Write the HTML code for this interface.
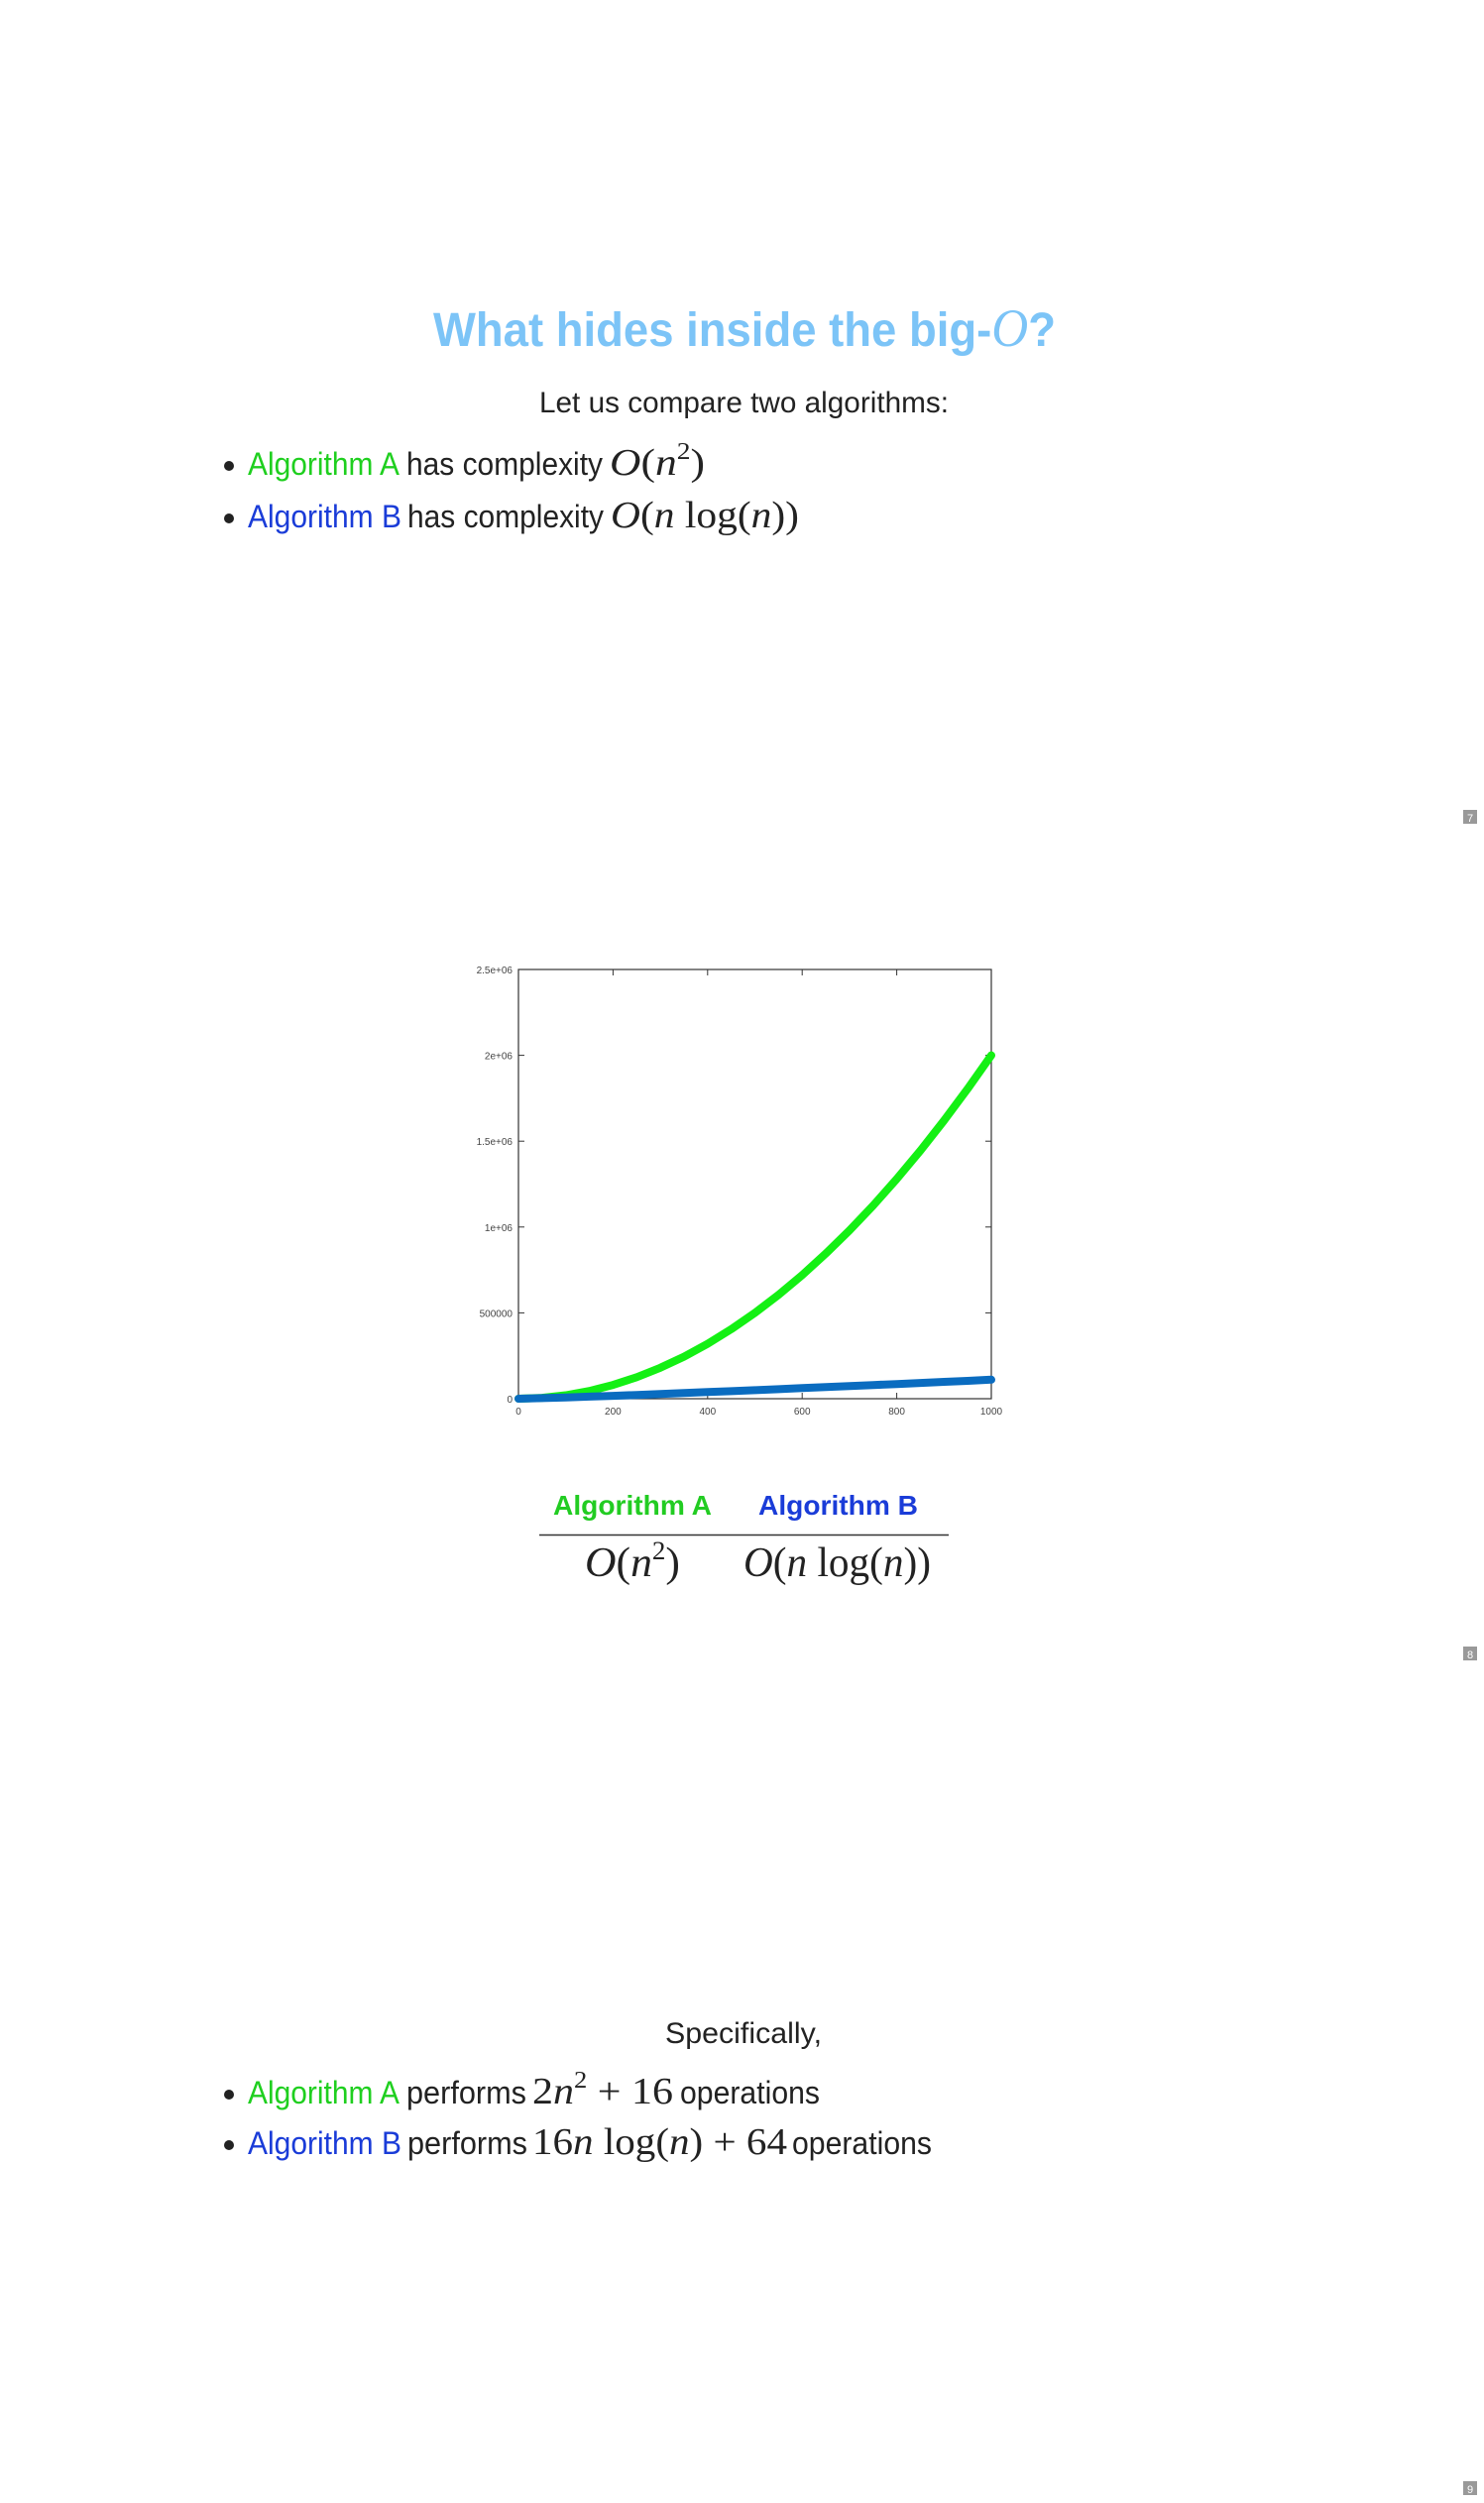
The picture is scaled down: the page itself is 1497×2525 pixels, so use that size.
<!DOCTYPE html>
<html><head><meta charset="utf-8"><style>
html,body{margin:0;padding:0;background:#fff;}
svg{display:block;}
.s{font-family:"Liberation Sans",sans-serif;}
.m{font-family:"Liberation Serif",serif;}
</style></head><body>
<svg id="page" width="1497" height="2525" viewBox="0 0 1497 2525" xmlns="http://www.w3.org/2000/svg">
<rect width="1497" height="2525" fill="#fff"/>
<!-- slide 7 -->
<g>
<text class="s" x="437" y="349" font-size="48" font-weight="bold" fill="#7cc4f7" textLength="628" lengthAdjust="spacingAndGlyphs">What hides inside the big-<tspan class="m" font-style="italic" font-weight="normal" font-size="54">O</tspan>?</text>
<text class="s" x="544" y="416" font-size="30" fill="#222" textLength="413" lengthAdjust="spacingAndGlyphs">Let us compare two algorithms:</text>
<circle cx="231" cy="470" r="5" fill="#222"/>
<text class="s" x="250" y="479" font-size="32" fill="#1fcf1f" textLength="153" lengthAdjust="spacingAndGlyphs">Algorithm A</text>
<text class="s" x="410" y="479" font-size="32" fill="#222" textLength="198" lengthAdjust="spacingAndGlyphs">has complexity</text>
<text class="m" x="615" y="479" font-size="38" fill="#222" textLength="96" lengthAdjust="spacingAndGlyphs"><tspan font-style="italic">O</tspan>(<tspan font-style="italic">n</tspan><tspan dy="-16" font-size="24">2</tspan><tspan dy="16">)</tspan></text>
<circle cx="231" cy="523" r="5" fill="#222"/>
<text class="s" x="250" y="532" font-size="32" fill="#1a3cd8" textLength="155" lengthAdjust="spacingAndGlyphs">Algorithm B</text>
<text class="s" x="411" y="532" font-size="32" fill="#222" textLength="198" lengthAdjust="spacingAndGlyphs">has complexity</text>
<text class="m" x="616" y="532" font-size="38" fill="#222" textLength="190" lengthAdjust="spacingAndGlyphs"><tspan font-style="italic">O</tspan>(<tspan font-style="italic">n</tspan> log(<tspan font-style="italic">n</tspan>))</text>
<rect x="1476" y="817" width="14" height="14" fill="#999"/>
<text class="s" x="1483" y="829" font-size="11" fill="#fff" text-anchor="middle">7</text>
</g>
<!-- slide 8 -->
<g>
<g id="chart"></g>
<text class="s" x="558" y="1528" font-size="28" font-weight="bold" fill="#22cc22" textLength="160" lengthAdjust="spacingAndGlyphs">Algorithm A</text>
<text class="s" x="765" y="1528" font-size="28" font-weight="bold" fill="#1a3cd8" textLength="161" lengthAdjust="spacingAndGlyphs">Algorithm B</text>
<line x1="544" y1="1548.5" x2="957" y2="1548.5" stroke="#333" stroke-width="1.5"/>
<text class="m" x="590" y="1590" font-size="42" fill="#222" textLength="96" lengthAdjust="spacingAndGlyphs"><tspan font-style="italic">O</tspan>(<tspan font-style="italic">n</tspan><tspan dy="-17" font-size="26">2</tspan><tspan dy="17">)</tspan></text>
<text class="m" x="750" y="1590" font-size="42" fill="#222" textLength="189" lengthAdjust="spacingAndGlyphs"><tspan font-style="italic">O</tspan>(<tspan font-style="italic">n</tspan> log(<tspan font-style="italic">n</tspan>))</text>
<rect x="1476" y="1661" width="14" height="14" fill="#999"/>
<text class="s" x="1483" y="1673" font-size="11" fill="#fff" text-anchor="middle">8</text>
</g>
<!-- slide 9 -->
<g>
<text class="s" x="671" y="2061" font-size="30" fill="#222" textLength="158" lengthAdjust="spacingAndGlyphs">Specifically,</text>
<circle cx="231" cy="2113" r="5" fill="#222"/>
<text class="s" x="250" y="2122" font-size="32" fill="#1fcf1f" textLength="153" lengthAdjust="spacingAndGlyphs">Algorithm A</text>
<text class="s" x="410" y="2122" font-size="32" fill="#222" textLength="121" lengthAdjust="spacingAndGlyphs">performs</text>
<text class="m" x="537" y="2122" font-size="38" fill="#222" textLength="142" lengthAdjust="spacingAndGlyphs">2<tspan font-style="italic">n</tspan><tspan dy="-16" font-size="24">2</tspan><tspan dy="16"> + 16</tspan></text>
<text class="s" x="686" y="2122" font-size="32" fill="#222" textLength="141" lengthAdjust="spacingAndGlyphs">operations</text>
<circle cx="231" cy="2164" r="5" fill="#222"/>
<text class="s" x="250" y="2173" font-size="32" fill="#1a3cd8" textLength="155" lengthAdjust="spacingAndGlyphs">Algorithm B</text>
<text class="s" x="411" y="2173" font-size="32" fill="#222" textLength="121" lengthAdjust="spacingAndGlyphs">performs</text>
<text class="m" x="537" y="2173" font-size="38" fill="#222" textLength="257" lengthAdjust="spacingAndGlyphs">16<tspan font-style="italic">n</tspan> log(<tspan font-style="italic">n</tspan>) + 64</text>
<text class="s" x="799" y="2173" font-size="32" fill="#222" textLength="141" lengthAdjust="spacingAndGlyphs">operations</text>
<rect x="1476" y="2503" width="14" height="14" fill="#999"/>
<text class="s" x="1483" y="2515" font-size="11" fill="#fff" text-anchor="middle">9</text>
</g>
</svg>
<script>
const nValues = [0,50,100,150,200,250,300,350,400,450,500,550,600,650,700,750,800,850,900,950,1000];
const seriesA = [16,5016,20016,45016,80016,125016,180016,245016,320016,405016,500016,605016,720016,845016,980016,1125016,1280016,1445016,1620016,1805016,2000016];
const seriesB = [64,3200,7400,12100,17000,22100,27400,32800,38400,44000,49800,55600,61500,67400,73400,79500,85600,91800,98000,104200,110600];
const xTicks = [0,200,400,600,800,1000];
const yTicks = [0,500000,1000000,1500000,2000000,2500000];
const yTickLabels = ["0","500000","1e+06","1.5e+06","2e+06","2.5e+06"];

const NS = "http://www.w3.org/2000/svg";
const chart = document.getElementById('chart');
const L = 523, R = 1000, T = 978, B = 1411;
const xMax = 1000, yMax = 2500000;
function sx(v){ return L + (v / xMax) * (R - L); }
function sy(v){ return B - (v / yMax) * (B - T); }
function mk(tag, attrs){ const e = document.createElementNS(NS, tag); for (const k in attrs) e.setAttribute(k, attrs[k]); chart.appendChild(e); return e; }

const frame = mk('rect', {x:L, y:T, width:R-L, height:B-T, fill:'none', stroke:'#333', 'stroke-width':1.2});



xTicks.forEach(function(v){
  const x = sx(v);
  const t1 = mk('line', {x1:x, y1:B, x2:x, y2:B-6, stroke:'#333', 'stroke-width':1});
  
  
  const t2 = mk('line', {x1:x, y1:T, x2:x, y2:T+6, stroke:'#333', 'stroke-width':1});
  
  
  const lb = mk('text', {x:x, y:B+16, 'font-size':10, fill:'#444', 'text-anchor':'middle', 'font-family':'Liberation Sans, sans-serif'});
  lb.textContent = String(v);
  
  
});
yTicks.forEach(function(v, i){
  const y = sy(v);
  const t1 = mk('line', {x1:L, y1:y, x2:L+6, y2:y, stroke:'#333', 'stroke-width':1});
  
  
  const t2 = mk('line', {x1:R, y1:y, x2:R-6, y2:y, stroke:'#333', 'stroke-width':1});
  
  
  const lb = mk('text', {x:L-6, y:y+4, 'font-size':10, fill:'#444', 'text-anchor':'end', 'font-family':'Liberation Sans, sans-serif'});
  lb.textContent = yTickLabels[i];
  
  
});

function path(vals){ return vals.map(function(v,i){ return (i ? 'L' : 'M') + sx(nValues[i]).toFixed(1) + ',' + sy(v).toFixed(1); }).join(' '); }
const lineA = mk('path', {d:path(seriesA), fill:'none', stroke:'#14f014', 'stroke-width':8, 'stroke-linecap':'round', 'stroke-linejoin':'round'});


const lineB = mk('path', {d:path(seriesB), fill:'none', stroke:'#0a6cc0', 'stroke-width':8, 'stroke-linecap':'round', 'stroke-linejoin':'round'});


</script>
</body></html>
